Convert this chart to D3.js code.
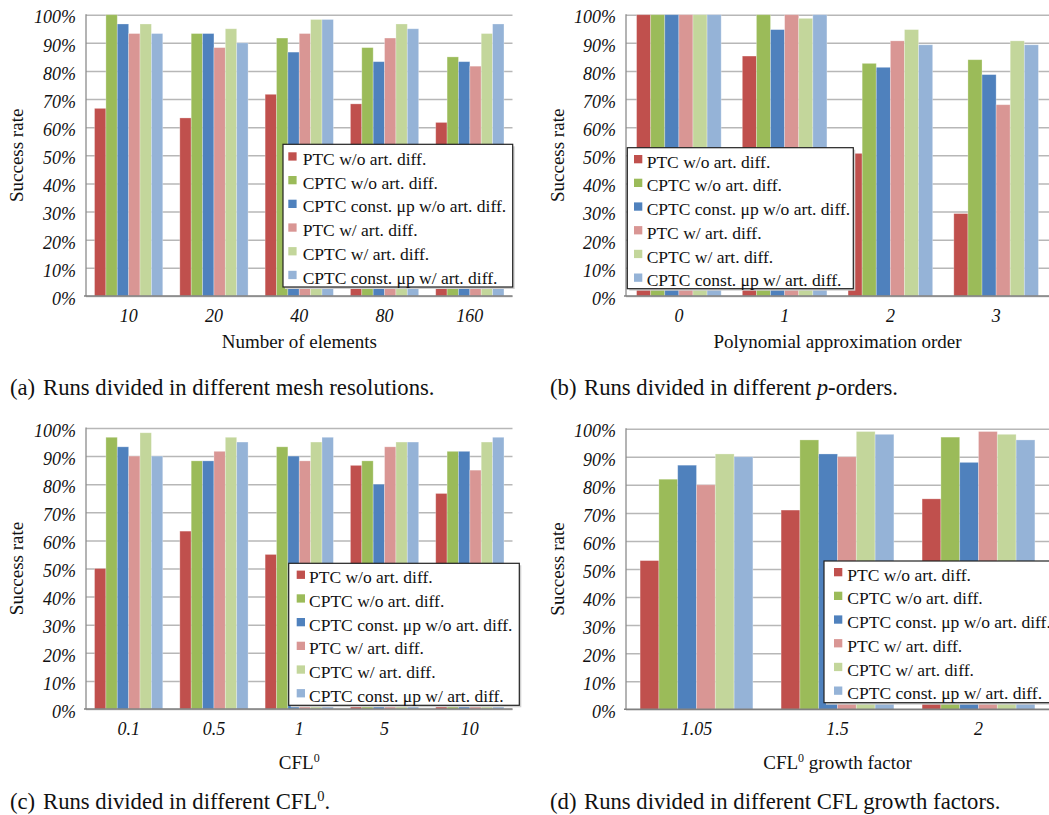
<!DOCTYPE html>
<html>
<head>
<meta charset="utf-8">
<script src="https://cdn.jsdelivr.net/npm/d3@7"></script>
<style>
  html, body { margin: 0; padding: 0; background: #fff; }
  svg { display: block; }
  text { font-family: "Liberation Serif", "Times New Roman", serif; fill: #111; }
</style>
</head>
<body>
<svg id="chart" width="1049" height="815"></svg>
<script>
// ---------- data ----------
const seriesNames = [
  "PTC w/o art. diff.",
  "CPTC w/o art. diff.",
  "CPTC const. \u03bcp w/o art. diff.",
  "PTC w/ art. diff.",
  "CPTC w/ art. diff.",
  "CPTC const. \u03bcp w/ art. diff."
];
const seriesColors = ["#C0504D", "#9BBB59", "#4F81BD", "#D99694", "#C3D69B", "#95B3D7"];
const yTicks = [0, 10, 20, 30, 40, 50, 60, 70, 80, 90, 100];

// (a) mesh resolutions
const catsA = ["10", "20", "40", "80", "160"];
const ptcNoAdA      = [66.7, 63.3, 71.7, 68.3, 61.7];
const cptcNoAdA     = [100, 93.3, 91.7, 88.3, 85.0];
const cptcMuNoAdA   = [96.7, 93.3, 86.7, 83.3, 83.3];
const ptcAdA        = [93.3, 88.3, 93.3, 91.7, 81.7];
const cptcAdA       = [96.7, 95.0, 98.3, 96.7, 93.3];
const cptcMuAdA     = [93.3, 90.0, 98.3, 95.0, 96.7];

// (b) p-orders
const catsB = ["0", "1", "2", "3"];
const ptcNoAdB      = [100, 85.3, 50.7, 29.3];
const cptcNoAdB     = [100, 100, 82.7, 84.0];
const cptcMuNoAdB   = [100, 94.7, 81.3, 78.7];
const ptcAdB        = [100, 100, 90.7, 68.0];
const cptcAdB       = [100, 98.7, 94.7, 90.7];
const cptcMuAdB     = [100, 100, 89.3, 89.3];

// (c) CFL0
const catsC = ["0.1", "0.5", "1", "5", "10"];
const ptcNoAdC      = [50.0, 63.3, 55.0, 86.7, 76.7];
const cptcNoAdC     = [96.7, 88.3, 93.3, 88.3, 91.7];
const cptcMuNoAdC   = [93.3, 88.3, 90.0, 80.0, 91.7];
const ptcAdC        = [90.0, 91.7, 88.3, 93.3, 85.0];
const cptcAdC       = [98.3, 96.7, 95.0, 95.0, 95.0];
const cptcMuAdC     = [90.0, 95.0, 96.7, 95.0, 96.7];

// (d) CFL growth factor
const catsD = ["1.05", "1.5", "2"];
const ptcNoAdD      = [53, 71, 75];
const cptcNoAdD     = [82, 96, 97];
const cptcMuNoAdD   = [87, 91, 88];
const ptcAdD        = [80, 90, 99];
const cptcAdD       = [91, 99, 98];
const cptcMuAdD     = [90, 98, 96];

// ---------- layout ----------
const svg = d3.select("#chart");

const panels = [
  { cats: catsA, series: [ptcNoAdA, cptcNoAdA, cptcMuNoAdA, ptcAdA, cptcAdA, cptcMuAdA],
    x0: 86, x1: 512.5, yTop: 14.7, yBot: 296,
    xTitle: [{t: "Number of elements"}], xTitleY: 347.7, tickPad: 13,
    yTitleX: 23.3,
    legend: {x: 283, y: 144.3, w: 229.7, h: 142.7, sw: 5.3, tx: 19.7, b0: 20.7},
    capX: 10, capRunsX: 43, capY: 395,
    caption: [{t: "Runs divided in different mesh resolutions."}], label: "(a)" },
  { cats: catsB, series: [ptcNoAdB, cptcNoAdB, cptcMuNoAdB, ptcAdB, cptcAdB, cptcMuAdB],
    x0: 626, x1: 1049, yTop: 14.7, yBot: 296,
    xTitle: [{t: "Polynomial approximation order"}], xTitleY: 347.7, tickPad: 13,
    yTitleX: 564,
    legend: {x: 627.3, y: 147.7, w: 226, h: 141, sw: 6.7, tx: 19.4, b0: 20},
    capX: 550, capRunsX: 584, capY: 395,
    caption: [{t: "Runs divided in different "}, {t: "p", it: true}, {t: "-orders."}], label: "(b)" },
  { cats: catsC, series: [ptcNoAdC, cptcNoAdC, cptcMuNoAdC, ptcAdC, cptcAdC, cptcMuAdC],
    x0: 86, x1: 512.5, yTop: 428, yBot: 709,
    xTitle: [{t: "CFL"}, {t: "0", sup: true}], xTitleY: 768.5, tickPad: 13,
    yTitleX: 23.3,
    legend: {x: 288.7, y: 563.3, w: 230.6, h: 142, sw: 8, tx: 20.3, b0: 20},
    capX: 10, capRunsX: 43, capY: 809,
    caption: [{t: "Runs divided in different CFL"}, {t: "0", sup: true}, {t: "."}], label: "(c)" },
  { cats: catsD, series: [ptcNoAdD, cptcNoAdD, cptcMuNoAdD, ptcAdD, cptcAdD, cptcMuAdD],
    x0: 626, x1: 1049, yTop: 428.7, yBot: 709.3,
    xTitle: [{t: "CFL"}, {t: "0", sup: true}, {t: " growth factor"}], xTitleY: 768.5, tickPad: 13,
    yTitleX: 564.3,
    legend: {x: 824, y: 561, w: 240, h: 141.7, sw: 10, tx: 23.3, b0: 19.7},
    capX: 550, capRunsX: 584, capY: 809,
    caption: [{t: "Runs divided in different CFL growth factors."}], label: "(d)" }
];

function addRich(textSel, parts, supSize) {
  parts.forEach(p => {
    const ts = textSel.append("tspan").text(p.t);
    if (p.it) ts.style("font-style", "italic");
    if (p.sup) ts.attr("baseline-shift", "super").style("font-size", supSize);
  });
}

panels.forEach(p => {
  const g = svg.append("g");
  const x = d3.scaleBand().domain(p.cats).range([p.x0, p.x1]).paddingInner(0.2).paddingOuter(0.1);
  const xs = d3.scaleBand().domain(d3.range(seriesNames.length)).range([0, x.bandwidth()]);
  const y = d3.scaleLinear().domain([0, 100]).range([p.yBot, p.yTop]);

  // gridlines + y labels
  const yAxis = d3.axisLeft(y).tickValues(yTicks).tickSize(-(p.x1 - p.x0)).tickPadding(10)
    .tickFormat(d => d + "%");
  const ya = g.append("g").attr("transform", `translate(${p.x0},0)`).call(yAxis);
  ya.select(".domain").remove();
  ya.selectAll(".tick line").attr("stroke", "#b7b7b7").attr("stroke-width", 1.5);
  ya.selectAll(".tick text")
    .attr("dy", "0.46em")
    .style("font-family", "'Liberation Serif', 'Times New Roman', serif")
    .style("font-style", "italic").style("font-size", "18px").attr("fill", "#111");

  // bars
  const data = [];
  p.cats.forEach((c, ci) => p.series.forEach((s, si) => data.push({c, si, v: s[ci]})));
  g.append("g").selectAll("rect").data(data).join("rect")
    .attr("x", d => x(d.c) + xs(d.si))
    .attr("y", d => y(d.v))
    .attr("width", xs.bandwidth())
    .attr("height", d => y(0) - y(d.v))
    .attr("fill", d => seriesColors[d.si])
    .attr("stroke", "rgba(255,255,255,0.35)")
    .attr("stroke-width", 0.8);

  // axis lines
  g.append("line").attr("x1", p.x0).attr("x2", p.x0).attr("y1", p.yTop - 0.5).attr("y2", p.yBot)
    .attr("stroke", "#8c8c8c").attr("stroke-width", 1.3);
  g.append("line").attr("x1", p.x0 - 2).attr("x2", p.x1).attr("y1", p.yBot).attr("y2", p.yBot)
    .attr("stroke", "#808080").attr("stroke-width", 1.5);

  // x tick labels
  const xa = g.append("g").attr("transform", `translate(0,${p.yBot})`)
    .call(d3.axisBottom(x).tickSize(0).tickPadding(p.tickPad));
  xa.select(".domain").remove();
  xa.selectAll(".tick text")
    .style("font-family", "'Liberation Serif', 'Times New Roman', serif")
    .style("font-style", "italic").style("font-size", "18px").attr("fill", "#111");

  // x title
  const xt = g.append("text").attr("x", (p.x0 + p.x1) / 2).attr("y", p.xTitleY)
    .attr("text-anchor", "middle").style("font-size", "19px");
  addRich(xt, p.xTitle, "12px");

  // y title
  g.append("text")
    .attr("transform", `translate(${p.yTitleX},${(p.yTop + p.yBot) / 2}) rotate(-90)`)
    .attr("text-anchor", "middle").style("font-size", "19px").text("Success rate");

  // legend
  const L = p.legend;
  const lg = g.append("g");
  lg.append("rect").attr("x", L.x + 2).attr("y", L.y + 2).attr("width", L.w).attr("height", L.h)
    .attr("fill", "#d0d0d0");
  lg.append("rect").attr("x", L.x).attr("y", L.y).attr("width", L.w).attr("height", L.h)
    .attr("fill", "#fff").attr("stroke", "#222").attr("stroke-width", 1.2);
  seriesNames.forEach((name, i) => {
    const base = L.y + L.b0 + i * 23.7;
    lg.append("rect").attr("x", L.x + L.sw).attr("y", base - 12.7).attr("width", 8.3).attr("height", 8.3)
      .attr("fill", seriesColors[i]);
    lg.append("text").attr("x", L.x + L.tx).attr("y", base).style("font-size", "17.5px").text(name);
  });

  // caption
  g.append("text").attr("x", p.capX).attr("y", p.capY).style("font-size", "22.7px").text(p.label);
  const ct = g.append("text").attr("x", p.capRunsX).attr("y", p.capY).style("font-size", "22.7px");
  addRich(ct, p.caption, "14.5px");
});
</script>
</body>
</html>
